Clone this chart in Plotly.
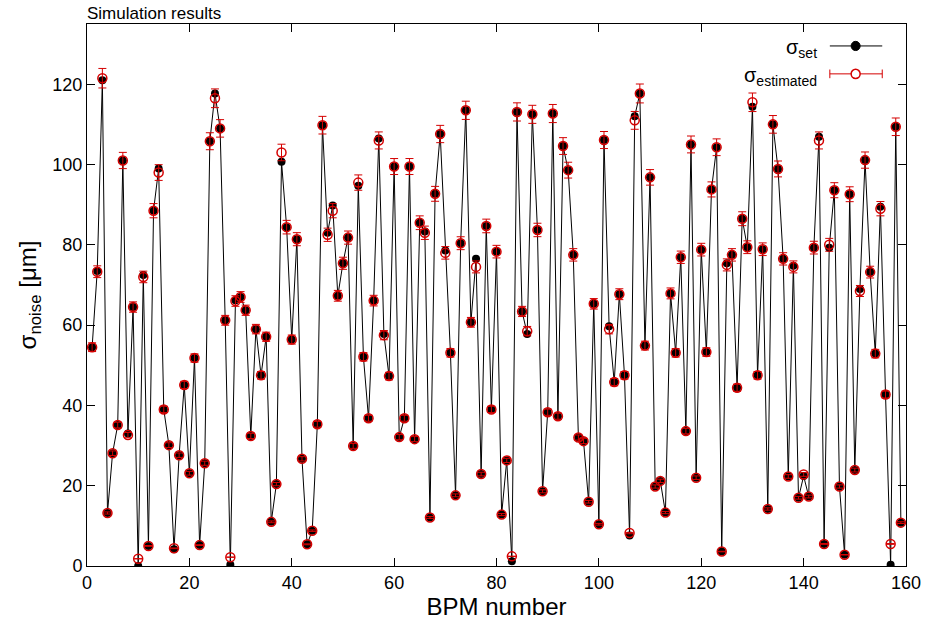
import plotly.graph_objects as go

bpm = list(range(1, 160))

sigma_set = [
    54.5, 73.5, 121.0, 13.2, 28.1, 35.1, 101.0, 33.0, 64.5, 0.0,
    72.5, 5.0, 88.5, 99.0, 39.0, 30.1, 4.2, 27.6, 45.1, 23.1,
    51.8, 5.2, 25.6, 105.8, 117.7, 109.0, 61.2, 0.3, 66.2, 67.0,
    63.7, 32.4, 59.0, 47.5, 57.1, 11.0, 20.4, 100.7, 84.4, 56.4,
    81.4, 26.7, 5.4, 8.8, 35.3, 109.8, 83.0, 89.8, 67.3, 75.4,
    81.8, 29.9, 94.7, 52.1, 36.8, 66.1, 106.5, 57.8, 47.3, 99.5,
    32.1, 36.8, 99.5, 31.6, 85.5, 83.3, 12.1, 92.7, 107.6, 78.6,
    53.1, 17.6, 80.4, 113.5, 60.7, 76.5, 22.9, 84.7, 39.0, 78.3,
    12.8, 26.3, 1.2, 113.1, 63.4, 57.8, 112.5, 83.7, 18.6, 38.3,
    112.7, 37.3, 104.6, 98.6, 77.5, 32.0, 31.1, 16.0, 65.3, 10.4,
    106.1, 59.7, 45.8, 67.7, 47.5, 7.6, 112.0, 117.7, 54.9, 96.8,
    19.8, 21.2, 13.3, 67.9, 53.1, 76.9, 33.6, 105.0, 22.0, 78.8,
    53.3, 93.8, 104.3, 3.6, 75.4, 77.5, 44.4, 86.5, 79.4, 114.4,
    47.5, 78.9, 14.2, 110.0, 98.9, 76.5, 22.3, 74.8, 17.0, 22.4,
    17.3, 79.3, 106.9, 5.5, 79.3, 93.6, 19.8, 2.8, 92.6, 23.9,
    69.0, 101.1, 73.2, 52.9, 89.5, 42.7, 0.3, 109.4, 10.8,
]

sigma_est = [
    54.5, 73.3, 121.5, 13.2, 28.1, 35.1, 101.0, 32.6, 64.5, 1.8,
    72.0, 5.0, 88.5, 98.0, 39.0, 30.1, 4.4, 27.6, 45.1, 23.1,
    51.8, 5.2, 25.6, 105.8, 116.5, 109.0, 61.2, 2.2, 66.0, 67.0,
    63.7, 32.4, 59.0, 47.5, 57.1, 11.0, 20.4, 103.0, 84.4, 56.4,
    81.4, 26.7, 5.4, 8.8, 35.3, 109.8, 82.5, 88.5, 67.3, 75.4,
    81.8, 29.9, 95.5, 52.1, 36.8, 66.1, 106.0, 57.5, 47.3, 99.5,
    32.1, 36.8, 99.5, 31.6, 85.5, 83.0, 12.1, 92.7, 107.6, 78.0,
    53.1, 17.6, 80.4, 113.5, 60.7, 74.5, 22.9, 84.7, 39.0, 78.3,
    12.8, 26.3, 2.4, 113.1, 63.4, 58.5, 112.5, 83.7, 18.6, 38.3,
    112.7, 37.3, 104.6, 98.6, 77.5, 32.0, 31.1, 16.0, 65.3, 10.4,
    106.1, 59.0, 45.8, 67.7, 47.5, 8.2, 111.0, 117.7, 54.9, 96.8,
    19.8, 21.2, 13.3, 67.9, 53.1, 76.9, 33.6, 105.0, 22.0, 78.8,
    53.3, 93.8, 104.3, 3.6, 75.0, 77.5, 44.4, 86.5, 79.4, 115.5,
    47.5, 78.9, 14.2, 110.0, 98.9, 76.5, 22.3, 74.5, 17.0, 22.8,
    17.3, 79.3, 106.0, 5.5, 80.0, 93.6, 19.8, 2.8, 92.6, 23.9,
    68.5, 101.1, 73.2, 52.9, 89.0, 42.7, 5.5, 109.4, 10.8,
]

REL_ERR = 0.02
sigma_err = [REL_ERR * v for v in sigma_est]

x_ticks = [0, 20, 40, 60, 80, 100, 120, 140, 160]
y_ticks = [0, 20, 40, 60, 80, 100, 120]

RED = "#d40000"
FONT = "Liberation Sans, Arial, sans-serif"

fig = go.Figure()
fig.add_trace(go.Scatter(
    x=bpm, y=sigma_set, mode="lines+markers",
    line=dict(color="black", width=1),
    marker=dict(color="black", size=8),
    showlegend=False,
))
fig.add_trace(go.Scatter(
    x=bpm, y=sigma_est, mode="markers",
    marker=dict(symbol="circle-open", color=RED, size=9, line=dict(width=1.5, color=RED)),
    error_y=dict(type="data", array=sigma_err, visible=True, color=RED, thickness=1, width=4),
    showlegend=False,
))

axis_common = dict(
    showline=True, linecolor="black", linewidth=1, mirror="allticks",
    ticks="inside", ticklen=8, tickcolor="black", showgrid=False, zeroline=False,
    tickfont=dict(family=FONT, size=18, color="black"),
)

fig.update_xaxes(range=[0, 160], tickvals=x_ticks,
                 title=dict(text="BPM number", font=dict(family=FONT, size=24, color="black"), standoff=4),
                 **axis_common)
fig.update_yaxes(range=[0, 135], tickvals=y_ticks,
                 title=dict(text="σ<sub>noise</sub> [μm]", font=dict(family=FONT, size=24, color="black"), standoff=8),
                 **axis_common)

# custom legend (key samples drawn in paper coordinates)
y1, y2 = 0.9595, 0.908
xa, xb, xm = 0.907, 0.971, 0.9385
shapes = [
    dict(type="line", xref="paper", yref="paper", x0=xa, x1=xb, y0=y1, y1=y1, line=dict(color="black", width=1)),
    dict(type="line", xref="paper", yref="paper", x0=xa, x1=xb, y0=y2, y1=y2, line=dict(color=RED, width=1)),
    dict(type="line", xref="paper", yref="paper", x0=xa, x1=xa, y0=y2 - 0.008, y1=y2 + 0.008, line=dict(color=RED, width=1)),
    dict(type="line", xref="paper", yref="paper", x0=xb, x1=xb, y0=y2 - 0.008, y1=y2 + 0.008, line=dict(color=RED, width=1)),
]
fig.update_layout(shapes=shapes)
fig.add_trace(go.Scatter(x=[0], y=[0], visible=False, showlegend=False))

annotations = [
    dict(text="Simulation results", xref="paper", yref="paper", x=0, y=1, xanchor="left", yanchor="bottom",
         showarrow=False, font=dict(family=FONT, size=17, color="black"), xshift=-2, yshift=-1),
    dict(text="σ<sub>set</sub>", xref="paper", yref="paper", x=0.894, y=y1, xanchor="right", yanchor="middle",
         showarrow=False, font=dict(family=FONT, size=20, color="black"), yshift=-3),
    dict(text="σ<sub>estimated</sub>", xref="paper", yref="paper", x=0.894, y=y2, xanchor="right", yanchor="middle",
         showarrow=False, font=dict(family=FONT, size=20, color="black"), yshift=-3),
]
fig.update_layout(annotations=annotations)

# legend marker glyphs
fig.add_shape(type="circle", xref="paper", yref="paper",
              x0=xm - 0.0055, x1=xm + 0.0055, y0=y1 - 0.0085, y1=y1 + 0.0085,
              fillcolor="black", line=dict(color="black", width=1))
fig.add_shape(type="circle", xref="paper", yref="paper",
              x0=xm - 0.0055, x1=xm + 0.0055, y0=y2 - 0.0085, y1=y2 + 0.0085,
              fillcolor="white", line=dict(color=RED, width=1.5))

fig.update_layout(
    width=933, height=625,
    margin=dict(l=87, r=17, t=24, b=58),
    paper_bgcolor="white", plot_bgcolor="white",
    font=dict(family=FONT, color="black"),
)

fig.write_html("out.html")
